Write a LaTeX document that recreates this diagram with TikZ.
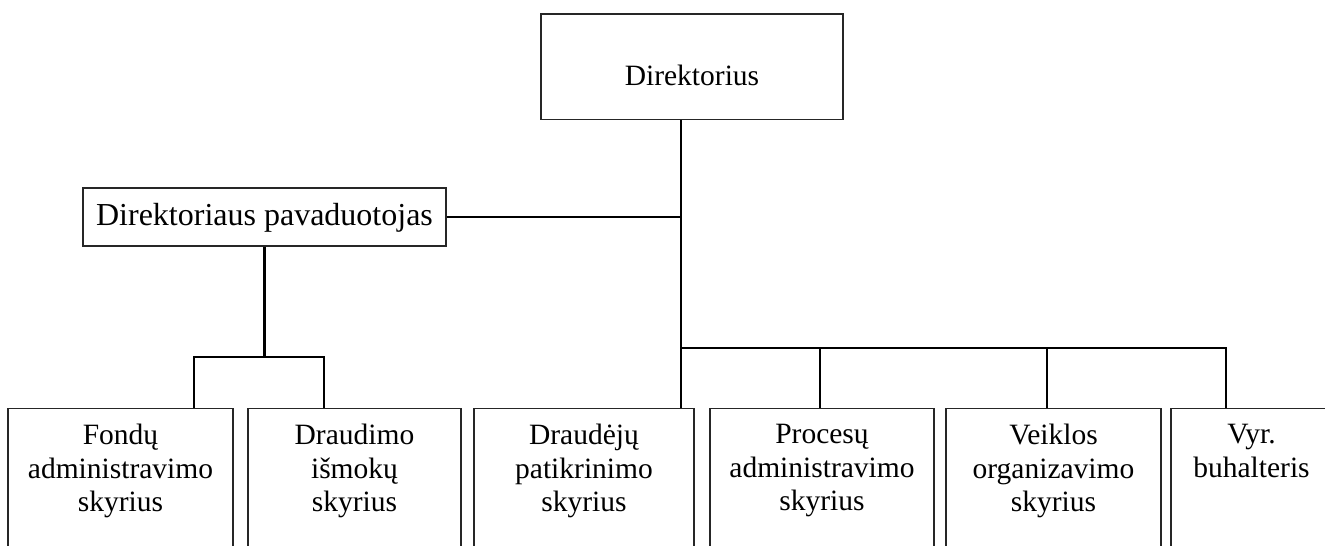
\documentclass[tikz,border=0pt]{standalone}
\usepackage{fontspec}
\setmainfont{Liberation Serif}
\usepackage{tikz}

\begin{document}
\begin{tikzpicture}
        [x=1pt, y=-1pt,
    every node/.style={font=\fontsize{29.5}{33.6}\selectfont},
    box/.style={draw=black!85, line width=1.2pt, inner xsep=0pt},
    headbox/.style={box, anchor=base, inner ysep=0pt},
    unit/.style={box, anchor=north, align=center, inner ysep=16pt, text depth=160pt},
    link/.style={draw, line width=2.5pt, line join=miter}]
    \path[use as bounding box, clip] (0,0) rectangle (1325,546);
    \node[headbox, minimum width=302pt, text height=71pt, text depth=34.5pt] (dir) at (692,85) {Direktorius};
    \node[headbox, minimum width=363pt, text height=37.5pt, text depth=20.5pt, font=\fontsize{32}{36}\selectfont] (dep) at (264.5,225.5) {Direktoriaus pavaduotojas};
    \node[unit, text width=225pt] (fond) at (120.5,407.5) {Fondų\\administravimo\\skyrius};
    \node[unit, text width=213pt] (draud) at (354.5,407.5) {Draudimo\\išmokų\\skyrius};
    \node[unit, text width=220pt] (patik) at (584,407.5) {Draudėjų\\patikrinimo\\skyrius};
    \node[unit, text width=224pt] (proc) at (822,407.5) {Procesų\\administravimo\\skyrius};
    \node[unit, text width=215pt] (veik) at (1053.5,407.5) {Veiklos\\organizavimo\\skyrius};
    \node[unit, text width=161pt] (vyr) at (1251.5,407.5) {Vyr.\\buhalteris};
    \coordinate (dj) at (264.5,357);
    \coordinate (fj) at (194,357);
    \coordinate (gj) at (324,357);
    \coordinate (mj) at (681,348);
    \coordinate (pj) at (820,348);
    \coordinate (vj) at (1047,348);
    \coordinate (bj) at (1226,348);
    \draw[link] (dir.south -| mj) -- (patik.north -| mj);
    \draw[link] (dep) -- (dep -| mj);
    \draw[link] (dep) -- (dj);
    \draw[link] (fond.north -| fj) -- (fj) -- (gj) -- (draud.north -| gj);
    \draw[link] (mj) -- (bj) -- (vyr.north -| bj);
    \draw[link] (pj) -- (proc.north -| pj);
    \draw[link] (vj) -- (veik.north -| vj);
\end{tikzpicture}
\end{document}
